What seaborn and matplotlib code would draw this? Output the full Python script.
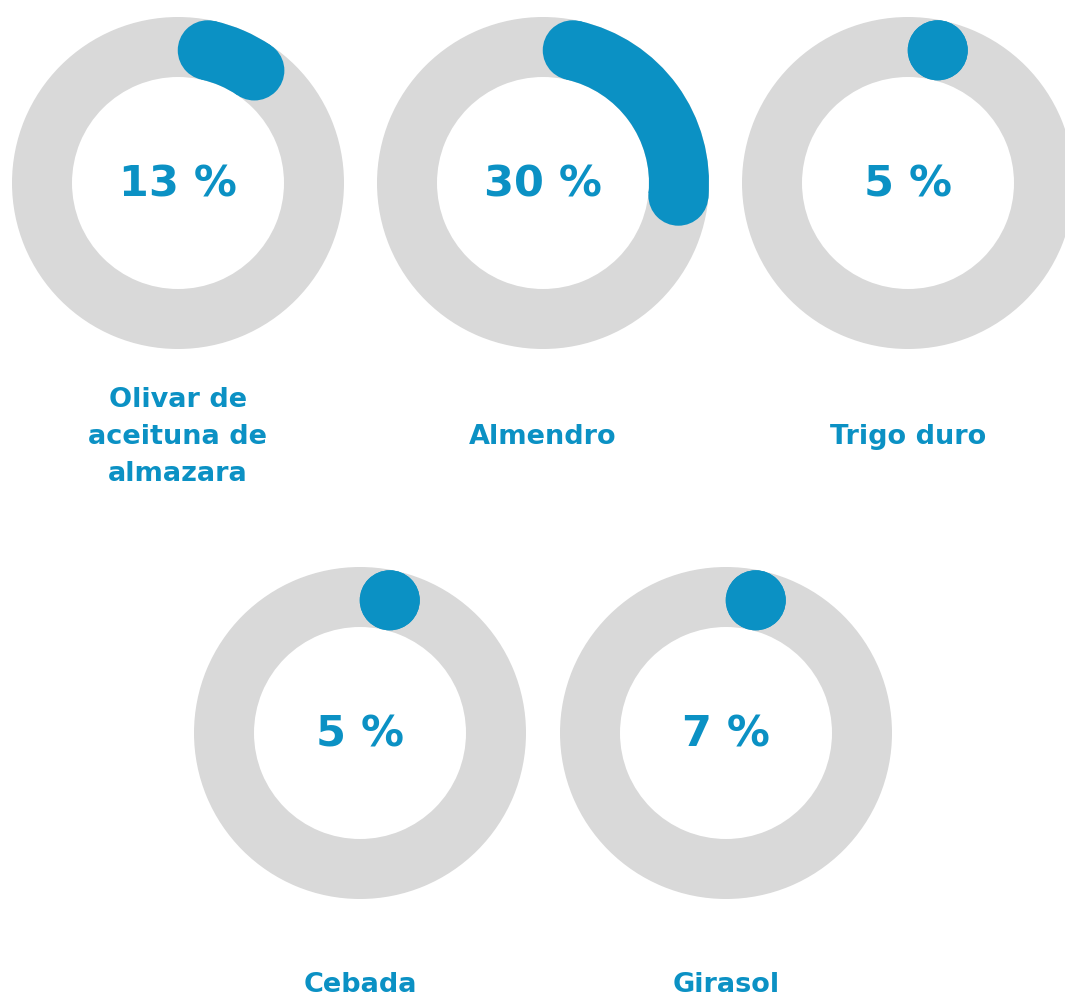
import numpy as np
import seaborn as sns
import matplotlib.pyplot as plt
from matplotlib.patches import Wedge, Circle

# Data
crops = ['Olivar de\naceituna de\nalmazara', 'Almendro', 'Trigo duro', 'Cebada', 'Girasol']
shares = [13, 30, 5, 5, 7]

# Layout (pixel coordinates of each gauge centre)
centres = [(178, 183), (543, 183), (908, 183), (360, 733), (726, 733)]
label_y = [437, 437, 437, 985, 985]

blue = '#0b91c4'
grey = '#d9d9d9'
r_out, r_in = 166, 106
r_mid = (r_out + r_in) / 2
cap = (r_out - r_in) / 2

sns.set_theme(style='white')
plt.rcParams['font.family'] = ['DejaVu Sans']

fig = plt.figure(figsize=(10.65, 9.99), dpi=100)
ax = fig.add_axes([0, 0, 1, 1])
ax.set_xlim(0, 1065)
ax.set_ylim(999, 0)
ax.set_aspect('equal')
ax.axis('off')


def pt(cx, cy, phi):
    # phi: degrees clockwise from 12 o'clock (y axis points down)
    a = np.deg2rad(phi)
    return cx + r_mid * np.sin(a), cy - r_mid * np.cos(a)


cap_deg = np.rad2deg(cap / r_mid)
for name, val, (cx, cy), ly in zip(crops, shares, centres, label_y):
    ax.add_patch(Wedge((cx, cy), r_out, 0, 360, width=r_out - r_in, color=grey, lw=0))
    start = cap_deg
    end = max(val / 100 * 360 - cap_deg, start)
    if end > start:
        ax.add_patch(Wedge((cx, cy), r_out, start - 90, end - 90, width=r_out - r_in,
                           color=blue, lw=0))
    for phi in (start, end):
        ax.add_patch(Circle(pt(cx, cy, phi), cap, color=blue, lw=0))
    ax.text(cx, cy - 3, f'{val} %', ha='center', va='center_baseline', fontsize=31,
            fontweight='bold', color=blue)
    ax.text(cx, ly, name, ha='center', va='center', fontsize=19.5,
            fontweight='bold', color=blue, linespacing=1.55)

fig.savefig('out.png', dpi=100)
